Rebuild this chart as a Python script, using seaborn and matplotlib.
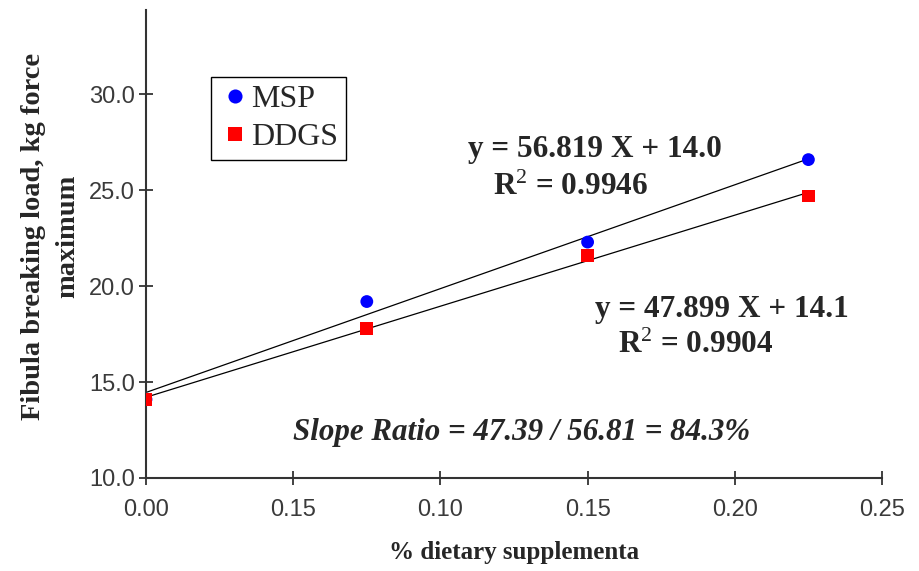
import pandas as pd
import seaborn as sns
import matplotlib.pyplot as plt

# Data
dose = [0.0, 0.075, 0.15, 0.225]
msp_load = [14.1, 19.2, 22.3, 26.6]
ddgs_load = [14.1, 17.8, 21.6, 24.7]
sources = ['MSP', 'DDGS']
source_colors = {'MSP': 'blue', 'DDGS': 'red'}
source_markers = {'MSP': 'o', 'DDGS': 's'}

x_ticks = [0.0, 0.05, 0.10, 0.15, 0.20, 0.25]
x_tick_labels = ['0.00', '0.15', '0.10', '0.15', '0.20', '0.25']
y_ticks = [10, 15, 20, 25, 30]
y_tick_labels = ['10.0', '15.0', '20.0', '25.0', '30.0']

msp_eq = 'y = 56.819 X + 14.0'
msp_r2 = r'R$^2$ = 0.9946'
ddgs_eq = 'y = 47.899 X + 14.1'
ddgs_r2 = r'R$^2$ = 0.9904'
slope_text = 'Slope Ratio = 47.39 / 56.81 = 84.3%'

W, H = 920, 571


def fx(px):
    return px / W


def fy(py):
    return 1 - py / H


def main():
    sns.set_style('ticks')
    plt.rcParams['font.family'] = ['Liberation Serif', 'DejaVu Serif']
    plt.rcParams['mathtext.fontset'] = 'custom'
    plt.rcParams['mathtext.rm'] = 'Liberation Serif'
    plt.rcParams['mathtext.it'] = 'Liberation Serif:italic'
    plt.rcParams['mathtext.bf'] = 'Liberation Serif:bold'

    df = pd.DataFrame({
        'dose': dose * 2,
        'load': msp_load + ddgs_load,
        'source': ['MSP'] * len(dose) + ['DDGS'] * len(dose),
    })

    fig = plt.figure(figsize=(W / 100, H / 100), dpi=100)
    ax = fig.add_axes([fx(146), fy(478), fx(882) - fx(146), fy(10) - fy(478)])

    # fitted lines
    for src in sources:
        sub = df[df['source'] == src]
        sns.regplot(data=sub, x='dose', y='load', ax=ax, scatter=False, ci=None,
                    line_kws=dict(color='black', lw=0.9, zorder=2))

    sns.scatterplot(data=df, x='dose', y='load', hue='source', style='source',
                    palette=source_colors, markers=source_markers, s=85,
                    linewidth=0, ax=ax, zorder=3)

    ax.set_xlim(0, 0.25)
    ax.set_ylim(10, 34.4)
    ax.set_xticks(x_ticks)
    ax.set_xticklabels(x_tick_labels)
    ax.set_yticks(y_ticks)
    ax.set_yticklabels(y_tick_labels)

    for lab in ax.get_xticklabels() + ax.get_yticklabels():
        lab.set_family('Liberation Sans')
        lab.set_fontsize(17)
        lab.set_color('#3a3a3a')
    ax.tick_params(axis='both', direction='inout', length=10, width=1.3,
                   color='#333333')
    ax.tick_params(axis='x', pad=10)
    ax.tick_params(axis='y', pad=3)

    sns.despine(ax=ax)
    for side in ['left', 'bottom']:
        ax.spines[side].set_color('#333333')
        ax.spines[side].set_linewidth(1.5)

    ax.set_xlabel('% dietary supplementa', fontsize=18, fontweight='bold')
    ax.xaxis.set_label_coords(0.5, (478 - 541) / 468)
    ax.set_ylabel('Fibula breaking load, kg force\nmaximum', fontsize=20.5,
                  fontweight='bold', linespacing=1.45)
    ax.yaxis.set_label_coords((80 - 146) / 736, (478 - 236) / 468)

    sns.move_legend(ax, loc='upper left', bbox_to_anchor=(fx(211), fy(77)),
                    bbox_transform=fig.transFigure, title=None, frameon=True,
                    fancybox=False, edgecolor='black', framealpha=1,
                    fontsize=23, handletextpad=0.0, handlelength=1.0,
                    borderpad=0.25, labelspacing=0.25, borderaxespad=0,
                    markerscale=1.1)
    leg = ax.get_legend()
    leg.get_frame().set_linewidth(1.0)

    fig.text(fx(468), fy(157), msp_eq, fontsize=22.5, fontweight='bold')
    fig.text(fx(493), fy(195), msp_r2, fontsize=22.5, fontweight='bold')
    fig.text(fx(595), fy(317), ddgs_eq, fontsize=22.5, fontweight='bold')
    fig.text(fx(618), fy(353), ddgs_r2, fontsize=22.5, fontweight='bold')
    fig.text(fx(293), fy(440), slope_text, fontsize=22.3, fontweight='bold',
             fontstyle='italic')

    fig.savefig('out.png', dpi=100)


if __name__ == '__main__':
    main()
